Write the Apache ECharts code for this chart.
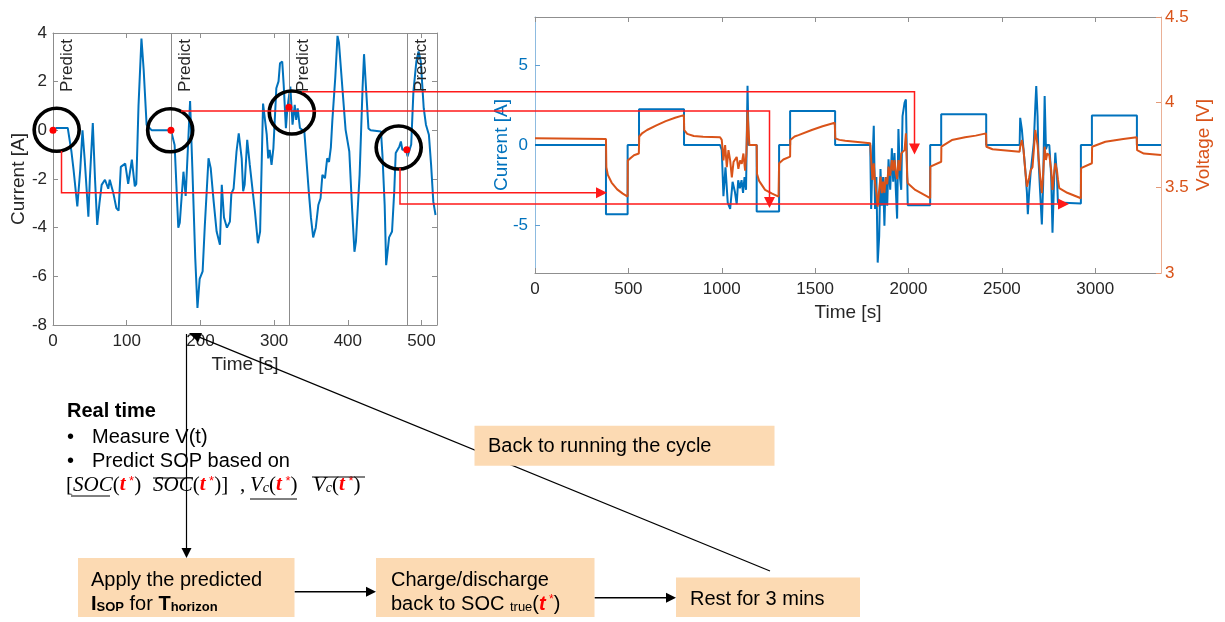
<!DOCTYPE html>
<html>
<head>
<meta charset="utf-8">
<script src="https://cdn.jsdelivr.net/npm/echarts@6/dist/echarts.min.js"></script>
<style>
  html, body { margin: 0; padding: 0; background: #fff; }
  #main { width: 1225px; height: 622px; }
</style>
</head>
<body>
<div id="main"></div>
<script>
// ---- left plot: one drive cycle, current [A] vs time [s] ----
const cycleCurrent = [
  [0,0],[5,0.1],[20,0.1],[25,-0.87],[28,-1.65],[33,-3.13],[37,-1.6],[40,0],[43,-1.2],[48,-3.55],
  [50,-2.0],[54,0.3],[57,-2.0],[60,-3.89],[63,-3.0],[66,-2.24],[70.5,-2.03],[73,-2.1],[75,-2.4],[77,-2.03],
  [82,-2.6],[86,-3.2],[89,-3.3],[92,-1.5],[98,-1.37],[100,-1.45],[102,-2.2],[107,-1.2],[111,-2.3],[113,-2.2],
  [116,1.0],[120,3.77],[123,2.5],[127,0.23],[134,0],[160,0],
  [165,-0.6],[170,-4.0],[172,-3.8],[177,-1.7],[180,-2.7],[186,1.2],[189,-1.5],[193,-5.25],[196,-7.3],[199,-6.1],
  [203,-5.8],[206,-3.9],[211,-1.15],[214,-1.56],[218,-2.93],[222,-4.16],[226.5,-4.7],[229,-2.24],[232,-3.58],[236,-4.0],
  [240,-3.75],[242,-2.6],[245,-2.4],[249,-0.87],[252,-0.12],[256,-1.15],[258,-2.5],[260,-2.24],[263.5,-0.39],[267,-1.42],
  [269,-1.48],[274,-3.34],[278,-4.64],[281,-4.16],[285,1.1],[290,-0.18],[292,-1.15],[294,-0.8],[296.5,-1.42],[299,-0.74],
  [303,1.73],[306,2.01],[308,2.76],[311,2.83],[313,1.87],[316,0.09],[318,0.91],[320,0.95],[322,1.8],[325,0.23],
  [328,1.05],[330,0.43],[332,0.9],[335,0.1],[341,-0.05],[343,-0.87],[347,-2.5],[350,-3.6],[353,-4.4],[356.5,-4.0],
  [360,-3.07],[363,-2.79],[365.5,-1.83],[369,-1.97],[372,-1.15],[374.5,-1.3],[377,-0.7],[379,0.4],[383,2.18],[386,3.88],
  [388,3.6],[393,1.59],[397,0.02],[399.5,-0.05],[402,-0.87],[406,-3.34],[409,-4.99],[411,-4.57],[416,-1.83],[420,1.73],
  [422,3.13],[425,1.59],[428,0.08],[431,0],[445,-0.05],[447,-1.03],[450,-3.07],[452,-5.54],[454,-5.5],[456,-4.4],
  [460,-4.16],[463,-2.5],[465,-0.93],[470,-0.66],[472,-0.46],[474,-0.8],[479,-0.8],[481,-1.07],[486,-0.58],[489,1.59],
  [493,2.83],[496,3.24],[499,2.83],[503,0.91],[506,0.23],[510,-0.18],[513,-1.42],[516,-2.93],[519,-3.48]
];
const predictTime = [0, 160, 320, 480];
const predictCurrent = [0, 0, 0.95, -0.8];
const circleTime = [5, 159, 324, 469];
const circleCurrent = [0.02, 0, 0.73, -0.71];
const cycleTicks = [0, 100, 200, 300, 400, 500];

// ---- right plot: whole test, current [A] and voltage [V] vs time [s] ----
const testCurrent = [
  [0,0],[380,0],[380,-4.33],[496,-4.33],[496,0],[557,0],[557,2.23],[798,2.23],[798,0],[991,0],
  [1000,-0.3],[1009,-3.2],[1020,-1.4],[1032,-3.6],[1045,-4.0],[1058,-2.3],[1070,-2.9],[1080,-3.7],[1088,-2.2],[1097,-2.7],
  [1106,-2.2],[1114,-3.0],[1122,-2.0],[1130,-2.8],[1138,3.7],[1144,0],[1187,0],[1187,-4.16],[1307,-4.16],[1307,0],
  [1366,0],[1366,2.13],[1607,2.13],[1607,0],[1795,0],
  [1800,-4.0],[1807,-1.1],[1814,1.2],[1821,-4.0],[1828,-2.0],[1835,-7.35],[1843,-5.7],[1850,-1.5],[1857,-3.8],[1864,-2.0],
  [1871,-5.05],[1878,-2.0],[1886,-3.8],[1893,-0.9],[1902,-2.8],[1911,-0.2],[1918,-2.3],[1925,-0.5],[1932,-2.8],[1939,-4.6],
  [1946,1.0],[1954,-2.0],[1961,-2.8],[1968,1.8],[1979,2.65],[1986,2.85],[1993,-1.9],[1996,-3.77],[2116,-3.77],[2116,0],
  [2175,0],[2175,1.92],[2416,1.92],[2416,0],[2595,0],
  [2598,1.7],[2607,0.98],[2616,-0.3],[2625,-1.5],[2634,-2.97],[2639,-4.33],[2646,-2.97],[2654,-1.73],[2664,-1.73],[2671,0.15],
  [2679,2.44],[2684,3.69],[2691,1.81],[2696,-0.9],[2705,-2.98],[2714,-4.96],[2721,-2.4],[2729,3.06],[2736,-0.27],[2743,0],
  [2754,0],[2764,-1.96],[2771,-5.48],[2779,-2.4],[2786,-0.48],[2795,-1.9],[2800,-3.6],[2807,-3.65],[2923,-3.65],[2923,0],
  [2982,0],[2982,1.85],[3223,1.85],[3223,0],[3352,0]
];
const testVoltage = [
  [0,3.789],[380,3.785],[382,3.62],[390,3.575],[410,3.53],[440,3.49],[470,3.465],[496,3.448],[497,3.66],[530,3.69],
  [556,3.70],[558,3.80],[575,3.82],[600,3.838],[650,3.865],[700,3.89],[750,3.91],[797,3.925],[799,3.838],[815,3.815],
  [850,3.803],[900,3.798],[991,3.795],
  [1000,3.78],[1005,3.72],[1009,3.66],[1018,3.75],[1027,3.62],[1036,3.72],[1045,3.66],[1054,3.56],[1063,3.65],[1071,3.64],
  [1080,3.68],[1089,3.61],[1098,3.66],[1107,3.64],[1116,3.70],[1125,3.60],[1132,3.70],[1138,3.95],[1143,3.84],[1148,3.75],
  [1187,3.75],[1189,3.58],[1200,3.54],[1232,3.487],[1270,3.465],[1304,3.448],[1307,3.643],[1330,3.665],[1366,3.682],[1367,3.779],
  [1390,3.80],[1411,3.808],[1482,3.838],[1540,3.86],[1605,3.88],[1608,3.789],[1630,3.78],[1661,3.775],[1795,3.76],
  [1800,3.662],[1807,3.545],[1814,3.643],[1821,3.526],[1828,3.468],[1835,3.389],[1843,3.487],[1850,3.565],[1857,3.468],[1864,3.535],
  [1871,3.47],[1878,3.56],[1886,3.52],[1893,3.623],[1902,3.57],[1911,3.662],[1918,3.60],[1925,3.662],[1932,3.59],[1939,3.55],
  [1946,3.662],[1954,3.60],[1961,3.701],[1968,3.69],[1979,3.72],[1986,3.818],[1993,3.565],[1996,3.526],
  [2036,3.487],[2080,3.46],[2116,3.438],[2117,3.623],[2175,3.652],[2176,3.74],[2232,3.779],[2303,3.795],[2360,3.805],[2415,3.818],
  [2417,3.74],[2450,3.725],[2595,3.711],
  [2598,3.74],[2607,3.779],[2616,3.72],[2625,3.603],[2634,3.506],[2639,3.50],[2646,3.56],[2654,3.603],[2664,3.62],[2671,3.72],
  [2679,3.838],[2684,3.80],[2691,3.75],[2696,3.682],[2705,3.565],[2714,3.468],[2721,3.58],[2729,3.74],[2736,3.662],[2743,3.70],
  [2754,3.69],[2764,3.603],[2771,3.487],[2779,3.58],[2786,3.643],[2795,3.60],[2800,3.55],[2807,3.497],
  [2850,3.47],[2923,3.438],[2924,3.614],[2982,3.643],[2983,3.74],[3054,3.769],[3150,3.785],[3222,3.795],[3224,3.72],[3260,3.70],
  [3352,3.692]
];
const testTicks = [0, 500, 1000, 1500, 2000, 2500, 3000];
const currentTicks = [-5, 0, 5];

const FONT = 'Liberation Sans, Arial, Helvetica, sans-serif';
const SERIF = 'Liberation Serif, Times New Roman, serif';
const BLUE = '#0072BD', ORANGE = '#D95319', INK = '#262626', RED = '#ff1a1a';
const BOX = '#fcdab3';
const GRAY = '#8f8f8f';

// polyline with a filled head at the last point
function arrow(points, color, width, len, half, z) {
  const n = points.length;
  const tip = points[n - 1], prev = points[n - 2];
  const dx = tip[0] - prev[0], dy = tip[1] - prev[1];
  const d = Math.hypot(dx, dy), ux = dx / d, uy = dy / d;
  const bx = tip[0] - ux * len, by = tip[1] - uy * len;
  const line = points.slice(0, n - 1).concat([[bx + ux, by + uy]]);
  return [
    { type: 'polyline', z: z, shape: { points: line }, style: { stroke: color, lineWidth: width, fill: 'none' } },
    { type: 'polygon', z: z, shape: { points: [tip, [bx - uy * half, by + ux * half], [bx + uy * half, by - ux * half]] },
      style: { fill: color } }
  ];
}
function txt(x, y, text, style) {
  return { type: 'text', x: x, y: y, z: 60,
    style: Object.assign({ text: text, font: '20px ' + FONT, fill: '#000',
      verticalAlign: 'middle', textVerticalAlign: 'middle' }, style || {}) };
}
function rule(x1, x2, y) {
  return { type: 'line', z: 60, shape: { x1: x1, y1: y, x2: x2, y2: y }, style: { stroke: '#000', lineWidth: 1 } };
}
function box(x, y, w, h) {
  return { type: 'rect', z: 40, shape: { x: x, y: y, width: w, height: h }, style: { fill: BOX } };
}

const mathRich = {
  n: { fontFamily: SERIF, fontSize: 21, fill: '#000', color: '#000' },
  i: { fontFamily: SERIF, fontSize: 21, fontStyle: 'italic', fill: '#000', color: '#000' },
  c: { fontFamily: SERIF, fontSize: 14, fontStyle: 'italic', fill: '#000', color: '#000', verticalAlign: 'bottom' },
  t: { fontFamily: SERIF, fontSize: 21, fontStyle: 'italic', fontWeight: 'bold', fill: '#ff0000', color: '#ff0000' },
  s: { fontFamily: FONT, fontSize: 13, fill: '#ff0000', color: '#ff0000', verticalAlign: 'top' }
};
const boxRich = {
  n: { fontFamily: FONT, fontSize: 20, fill: '#000', color: '#000' },
  b: { fontFamily: FONT, fontSize: 20, fontWeight: 'bold', fill: '#000', color: '#000' },
  bs: { fontFamily: FONT, fontSize: 13, fontWeight: 'bold', fill: '#000', color: '#000', verticalAlign: 'bottom' },
  sub: { fontFamily: FONT, fontSize: 13, fill: '#000', color: '#000', verticalAlign: 'bottom' },
  t: { fontFamily: FONT, fontSize: 20, fontStyle: 'italic', fontWeight: 'bold', fill: '#ff0000', color: '#ff0000' },
  s: { fontFamily: FONT, fontSize: 12, fill: '#ff0000', color: '#ff0000', verticalAlign: 'top' }
};

const graphics = [].concat(
  // red links from the prediction instants to the full test
  arrow([[61.5, 151], [61.5, 192.7], [607, 192.7]], RED, 1.5, 11, 5.5, 100),
  arrow([[181, 111], [769.5, 111], [769.5, 208]], RED, 1.5, 11, 5.5, 100),
  arrow([[302, 91.7], [914.5, 91.7], [914.5, 154.5]], RED, 1.5, 11, 5.5, 100),
  arrow([[400, 168], [400, 204], [1069, 204]], RED, 1.5, 11, 5.5, 100),
  // flow diagram
  arrow([[770, 571], [189, 333]], '#000', 1.2, 12, 5, 30),
  arrow([[186.5, 334], [186.5, 558]], '#000', 1.2, 10, 5, 70),
  arrow([[294.5, 591.7], [376, 591.7]], '#000', 1.5, 10, 5, 30),
  arrow([[594.5, 597.7], [676, 597.7]], '#000', 1.5, 10, 5, 30),
  [
    box(474.5, 425.7, 300, 40),
    box(78, 558, 216.5, 59),
    box(376, 558, 218.5, 59),
    box(676, 577.5, 184, 39.5),
    txt(488, 446, 'Back to running the cycle'),
    txt(91, 580, 'Apply the predicted'),
    txt(91, 604, '{b|I}{bs|SOP}{n| for }{b|T}{bs|horizon}', { rich: boxRich }),
    txt(391, 580, 'Charge/discharge'),
    txt(391, 604, '{n|back to SOC }{sub|true}{n|(}{t|t}{s| *}{n|)}', { rich: boxRich }),
    txt(690, 599, 'Rest for 3 mins'),
    txt(67, 411, 'Real time', { font: 'bold 20px ' + FONT }),
    txt(67, 437, '\u2022'),
    txt(92, 437, 'Measure V(t)'),
    txt(67, 461, '\u2022'),
    txt(92, 461, 'Predict SOP based on'),
    txt(66, 485, '{n|[}{i|SOC}{n|(}{t|t}{s| *}{n|)}', { rich: mathRich }),
    txt(153, 485, '{i|SOC}{n|(}{t|t}{s| *}{n|)]}', { rich: mathRich }),
    txt(240, 485, '{n|,}', { rich: mathRich }),
    txt(250, 485, '{i|V}{c|c}{n|(}{t|t}{s| *}{n|)}', { rich: mathRich }),
    txt(313, 485, '{i|V}{c|c}{n|(}{t|t}{s| *}{n|)}', { rich: mathRich }),
    rule(71, 110, 496),
    rule(153, 193, 478),
    rule(250, 297, 499),
    rule(312, 365, 477)
  ]
);

const plain = v => String(v);
const tick = (color, extra) => Object.assign({ show: true, inside: true, length: 5, lineStyle: { color: color, width: 1 } }, extra || {});
const line = (color) => ({ show: true, onZero: false, lineStyle: { color: color, width: 1 } });
const label = (color, margin, extra) => Object.assign({ color: color, fontSize: 17, fontFamily: FONT, margin: margin, formatter: plain }, extra || {});
const nameStyle = (color) => ({ color: color, fontSize: 19, fontFamily: FONT });

const chart = echarts.init(document.getElementById('main'));
chart.setOption({
  animation: false,
  backgroundColor: '#fff',
  textStyle: { fontFamily: FONT },
  grid: [
    { left: 53, top: 33, width: 384, height: 292 },
    { left: 535, top: 17, width: 626, height: 256 }
  ],
  xAxis: [
    { gridIndex: 0, type: 'value', position: 'bottom', min: 0, max: 521,
      name: 'Time [s]', nameLocation: 'middle', nameGap: 30, nameMoveOverlap: false, nameTextStyle: nameStyle(INK),
      axisLine: line(GRAY), axisTick: tick(GRAY, { customValues: cycleTicks }),
      axisLabel: label(INK, 8, { customValues: cycleTicks }), splitLine: { show: false } },
    { gridIndex: 0, type: 'value', position: 'top', min: 0, max: 521,
      axisLine: line(GRAY), axisTick: tick(GRAY, { customValues: cycleTicks }),
      axisLabel: { show: false }, splitLine: { show: false } },
    { gridIndex: 1, type: 'value', position: 'bottom', min: 0, max: 3352,
      name: 'Time [s]', nameLocation: 'middle', nameGap: 30, nameMoveOverlap: false, nameTextStyle: nameStyle(INK),
      axisLine: line(GRAY), axisTick: tick(GRAY, { customValues: testTicks }),
      axisLabel: label(INK, 8, { customValues: testTicks }), splitLine: { show: false } },
    { gridIndex: 1, type: 'value', position: 'top', min: 0, max: 3352,
      axisLine: line(GRAY), axisTick: tick(GRAY, { customValues: testTicks }),
      axisLabel: { show: false }, splitLine: { show: false } }
  ],
  yAxis: [
    { gridIndex: 0, type: 'value', position: 'left', min: -8, max: 4, interval: 2,
      name: 'Current [A]', nameLocation: 'middle', nameGap: 25, nameRotate: 90, nameMoveOverlap: false,
      nameTextStyle: nameStyle(INK),
      axisLine: line(GRAY), axisTick: tick(GRAY), axisLabel: label(INK, 6), splitLine: { show: false } },
    { gridIndex: 0, type: 'value', position: 'right', min: -8, max: 4, interval: 2,
      axisLine: line(GRAY), axisTick: tick(GRAY), axisLabel: { show: false }, splitLine: { show: false } },
    { gridIndex: 1, type: 'value', position: 'left', min: -8, max: 8,
      name: 'Current [A]', nameLocation: 'middle', nameGap: 24, nameRotate: 90, nameMoveOverlap: false,
      nameTextStyle: nameStyle(BLUE),
      axisLine: line('#8dbbe0'), axisTick: tick('#5f9fd2', { customValues: currentTicks }),
      axisLabel: label(BLUE, 7, { customValues: currentTicks }), splitLine: { show: false } },
    { gridIndex: 1, type: 'value', position: 'right', min: 3, max: 4.5, interval: 0.5,
      name: 'Voltage [V]', nameLocation: 'middle', nameGap: 33, nameRotate: 90, nameMoveOverlap: false,
      nameTextStyle: nameStyle(ORANGE),
      axisLine: line('#eab096'), axisTick: tick('#e49a78'),
      axisLabel: label(ORANGE, 4), splitLine: { show: false } }
  ],
  series: [
    { name: 'cycle current', type: 'line', xAxisIndex: 0, yAxisIndex: 0, data: cycleCurrent,
      showSymbol: false, symbol: 'none', lineStyle: { color: BLUE, width: 2 }, itemStyle: { color: BLUE },
      markLine: {
        silent: true, symbol: ['none', 'none'], animation: false,
        lineStyle: { color: '#8c8c8c', width: 1, type: 'solid' },
        label: { show: true, formatter: 'Predict', position: 'insideEndBottom', distance: 6,
          color: INK, fontSize: 17, fontFamily: FONT },
        emphasis: { disabled: true },
        data: predictTime.map(t => ({ xAxis: t }))
      } },
    { name: 'circles', type: 'scatter', xAxisIndex: 0, yAxisIndex: 0, z: 5,
      data: circleTime.map((t, i) => [t, circleCurrent[i]]),
      symbol: 'circle', symbolSize: [45, 43],
      itemStyle: { color: 'rgba(0,0,0,0)', borderColor: '#000', borderWidth: 3.6, opacity: 1 } },
    { name: 'predict points', type: 'scatter', xAxisIndex: 0, yAxisIndex: 0, z: 6,
      data: predictTime.map((t, i) => [t, predictCurrent[i]]),
      symbolSize: 7, itemStyle: { color: '#ff0000', opacity: 1 } },
    { name: 'test current', type: 'line', xAxisIndex: 2, yAxisIndex: 2, data: testCurrent,
      showSymbol: false, symbol: 'none', lineStyle: { color: BLUE, width: 2 }, itemStyle: { color: BLUE } },
    { name: 'test voltage', type: 'line', xAxisIndex: 2, yAxisIndex: 3, data: testVoltage,
      showSymbol: false, symbol: 'none', lineStyle: { color: ORANGE, width: 2 }, itemStyle: { color: ORANGE } }
  ],
  graphic: { elements: graphics }
});
</script>
</body>
</html>
